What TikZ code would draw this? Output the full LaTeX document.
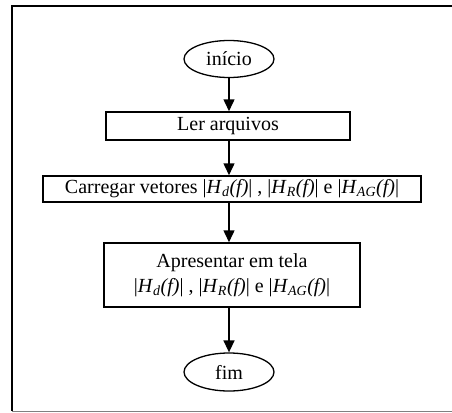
\documentclass[tikz,border=0pt]{standalone}
\usepackage{fontspec}
\setmainfont{Liberation Serif}
\usetikzlibrary{shapes.geometric,arrows.meta}

% |H_x(f)| with italic symbol and subscript
\newcommand{\magH}[1]{\textbar\textit{H}\textsubscript{\textit{#1}}\textit{(f)}\textbar}

\begin{document}
\begin{tikzpicture}[x=1pt,y=-1pt,
  every node/.style={font=\fontsize{20}{25}\selectfont, inner sep=0pt},
  terminal/.style={ellipse, draw, line width=1.3pt, minimum width=90pt, minimum height=37pt},
  stepbox/.style={rectangle, draw, line width=1.5pt, align=center},
  flow/.style={line width=1.5pt, -{Triangle[width=11pt,length=12pt]}}
]
\useasboundingbox (0,0) rectangle (452,412);

% outer frame (open on the right)
\draw[line width=1.5pt] (452,6) -- (12,6) -- (12,411);
\draw[gray, line width=1pt] (12,411.3) -- (452,411.3);

\node[terminal] (ini) at (229,59) {início};
\node[stepbox, minimum width=244pt, minimum height=28pt] (ler) at (228,126) {Ler arquivos};
\node[stepbox, minimum width=378pt, minimum height=26pt] (carr) at (232,189)
  {Carregar vetores \magH{d} , \magH{R} e \magH{AG}};
\node[stepbox, minimum width=256pt, minimum height=64pt] (apr) at (232,275)
  {Apresentar em tela\\ \magH{d} , \magH{R} e \magH{AG}};
\node[terminal, minimum height=38pt] (fim) at (229,372) {fim};

\draw[flow] (ini.south) -- (ini.south |- ler.north);
\draw[flow] (ini.south |- ler.south) -- (ini.south |- carr.north);
\draw[flow] (ini.south |- carr.south) -- (ini.south |- apr.north);
\draw[flow] (ini.south |- apr.south) -- (fim.north);
\end{tikzpicture}
\end{document}
